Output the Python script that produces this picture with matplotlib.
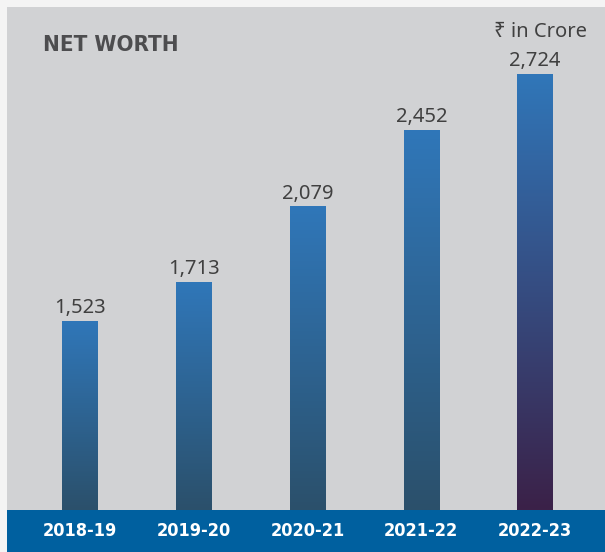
import numpy as np
import matplotlib
matplotlib.use("Agg")
import matplotlib.pyplot as plt
from matplotlib.colors import LinearSegmentedColormap
from matplotlib.patches import Rectangle

years = ["2018-19", "2019-20", "2020-21", "2021-22", "2022-23"]
net_worth = [1523, 1713, 2079, 2452, 2724]
value_labels = ["1,523", "1,713", "2,079", "2,452", "2,724"]

W, H = 605, 552
fig = plt.figure(figsize=(W / 100, H / 100), dpi=100)
fig.patch.set_facecolor("#f4f4f4")

# blue band at bottom
fig.patches.append(Rectangle((7 / W, 0), 1 - 7 / W, 42 / H, transform=fig.transFigure,
                             facecolor="#00609f", edgecolor="none", zorder=-5))

ax = fig.add_axes([7 / W, 42 / H, 1 - 7 / W, (510 - 7) / H])
ax.set_facecolor("#d1d2d4")
for s in ax.spines.values():
    s.set_visible(False)

x = np.arange(len(years))
bw = 0.31

top_col = "#3077b9"
bots = ["#2b506b", "#2b506b", "#2b506b", "#2b506b", "#3b2148"]
bars = ax.bar(x, net_worth, width=bw, color="none", zorder=2)
grad = np.linspace(0, 1, 256).reshape(-1, 1)
for i, (b, v) in enumerate(zip(bars, net_worth)):
    cmap = LinearSegmentedColormap.from_list(f"g{i}", [bots[i], top_col])
    im = ax.imshow(grad, cmap=cmap, origin="lower", aspect="auto",
                   extent=(x[i] - bw / 2, x[i] + bw / 2, 603, v), zorder=2)
    im.set_clip_path(b)
    ax.annotate(value_labels[i], (x[i], v), xytext=(0, 2), textcoords="offset points",
                ha="center", va="bottom", fontsize=14.5, color="#404040",
                family=["Noto Sans", "DejaVu Sans"])
ax.set_xlim(-0.642, 4.615)
ax.set_ylim(603, 3048)

cond = dict(family="DejaVu Sans", fontstretch="condensed", fontweight="bold")
ax.set_yticks([])
ax.set_xticks(x)
ax.set_xticklabels(years, fontsize=13, color="white", **cond)
ax.tick_params(axis="x", length=0, pad=9)

ax.text(36 / 598, 1 - (45 - 7) / 503, "NET WORTH", transform=ax.transAxes,
        fontsize=16, color="#4d4d4f", va="center", ha="left", **cond)
ax.text((541 - 7) / 598, 1 - (32 - 7) / 503, "₹ in Crore", transform=ax.transAxes,
        fontsize=14.5, color="#404040", va="center", ha="center",
        family=["Noto Sans", "DejaVu Sans"])

fig.savefig("out.png", dpi=100, facecolor=fig.get_facecolor())
